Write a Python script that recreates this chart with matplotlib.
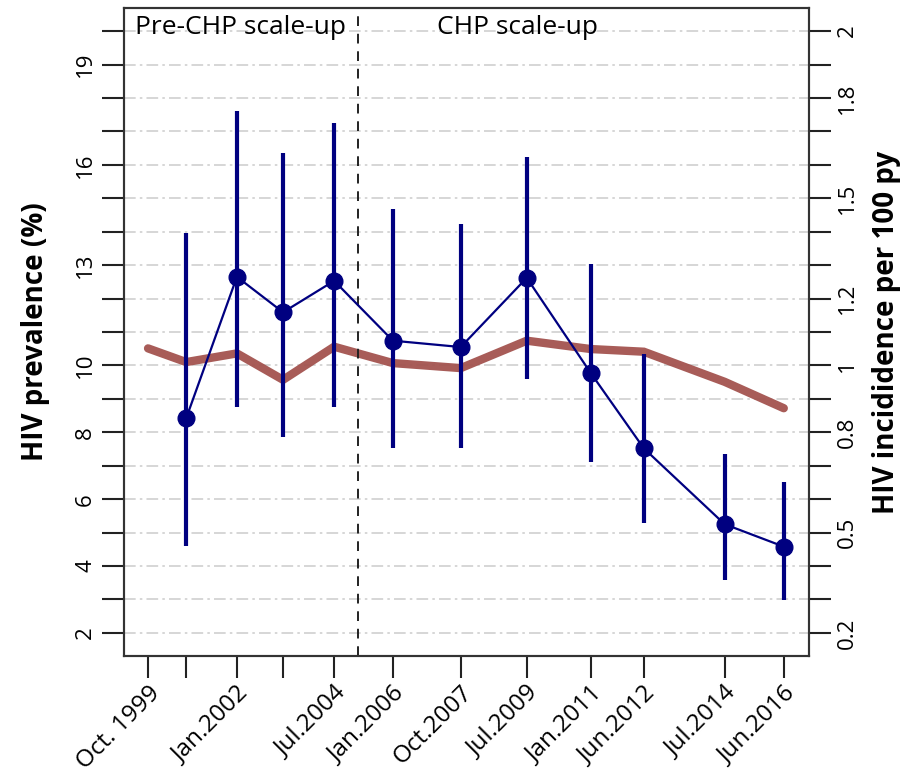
import matplotlib
matplotlib.use("Agg")
import matplotlib.pyplot as plt
import numpy as np

plt.rcParams['font.family'] = ['Open Sans', 'DejaVu Sans']

# survey dates (decimal years) and tick labels
dates = [1999.75, 2000.75, 2002.08, 2003.29, 2004.63, 2006.17, 2007.95,
         2009.68, 2011.36, 2012.75, 2014.87, 2016.42]
date_labels = ["Oct. 1999", "", "Jan.2002", "", "Jul.2004", "Jan.2006",
               "Oct.2007", "Jul.2009", "Jan.2011", "Jun.2012", "Jul.2014", "Jun.2016"]

# HIV prevalence (%) with 95% CI (surveys from the 2nd date onward)
prev_dates = dates[1:]
prevalence = [8.42, 12.65, 11.59, 12.53, 10.74, 10.55, 12.62, 9.77, 7.52, 5.25, 4.58]
prev_low = [4.60, 8.75, 7.87, 8.75, 7.54, 7.54, 9.60, 7.12, 5.30, 3.58, 2.99]
prev_high = [13.95, 17.61, 16.34, 17.26, 14.67, 14.22, 16.23, 13.03, 10.33, 7.34, 6.52]

# HIV incidence per 100 py
incidence = [1.051, 1.010, 1.036, 0.957, 1.056, 1.007, 0.992, 1.074, 1.049,
             1.041, 0.951, 0.872]

scale_up_date = 2005.25

left_ticks = list(range(2, 21))
left_labels = ["2", "", "4", "", "6", "", "8", "", "10", "", "", "13", "", "",
               "16", "", "", "19", ""]
right_ticks = [round(0.2 + 0.1 * i, 1) for i in range(19)]
right_labels = ["0.2", "", "", "0.5", "", "", "0.8", "", "1", "", "1.2", "", "",
                "1.5", "", "", "1.8", "", "2"]

fig = plt.figure(figsize=(9.2, 7.72), dpi=100)
ax2 = fig.add_axes([0.1348, 0.1503, 0.7445, 0.8393])
ax = ax2.twinx()
ax.yaxis.tick_left()
ax.yaxis.set_label_position("left")
ax2.yaxis.tick_right()
ax2.yaxis.set_label_position("right")
ax.set_zorder(ax2.get_zorder() + 1)
ax.patch.set_visible(False)

ylo, yhi = 1.31, 20.69
ax.set_ylim(ylo, yhi)
ax2.set_ylim(ylo / 10, yhi / 10)
ax2.set_xlim(1999.12, 2017.08)

# grid + incidence on the lower axis
ax2.set_yticks(right_ticks)
ax2.set_yticklabels(right_labels)
ax2.grid(axis='y', color='#cfcfcf', linestyle=(0, (7, 2.5, 1.5, 2.5)), linewidth=1.2)
ax2.plot(dates, incidence, color='#a3534f', linewidth=6, solid_capstyle='round',
         solid_joinstyle='miter', alpha=0.95, zorder=3)

ax.set_yticks(left_ticks)
ax.set_yticklabels(left_labels)

ax.errorbar(prev_dates, prevalence,
            yerr=[np.array(prevalence) - np.array(prev_low),
                  np.array(prev_high) - np.array(prevalence)],
            fmt='none', ecolor='#000080', elinewidth=3, capsize=0, zorder=3)
ax.plot(prev_dates, prevalence, color='#000080', linewidth=1.6, marker='o',
        markersize=12, zorder=4)

ax.axvline(scale_up_date, color='#222222', linestyle=(0, (5, 4)), linewidth=1.4, zorder=2)

ax.text(1999.41, yhi - 0.2, "Pre-CHP scale-up", fontsize=19, va='top', ha='left')
ax.text(2007.33, yhi - 0.2, "CHP scale-up", fontsize=19, va='top', ha='left')

ax2.set_xticks(dates)
ax2.set_xticklabels(date_labels)

for a in (ax, ax2):
    for s in a.spines.values():
        s.set_linewidth(1.5)
        s.set_color('#333333')
    a.tick_params(axis='both', length=16, width=1.5, color='#222222', labelsize=16)
ax.tick_params(axis='y', labelrotation=90, pad=4)
ax2.tick_params(axis='y', labelrotation=90, pad=4)
ax2.tick_params(axis='x', pad=2, labelsize=17.5)
for lbl in ax2.get_xticklabels():
    lbl.set_rotation(45)
    lbl.set_ha('right')
    lbl.set_rotation_mode('anchor')
for lbl in ax.get_yticklabels() + ax2.get_yticklabels():
    lbl.set_va('center')

ax.set_ylabel("HIV prevalence (%)", fontsize=20, fontweight='bold', labelpad=18)
ax2.set_ylabel("HIV incididence per 100 py", fontsize=20, fontweight='bold',
               labelpad=10)

fig.savefig("out.png", dpi=100)
